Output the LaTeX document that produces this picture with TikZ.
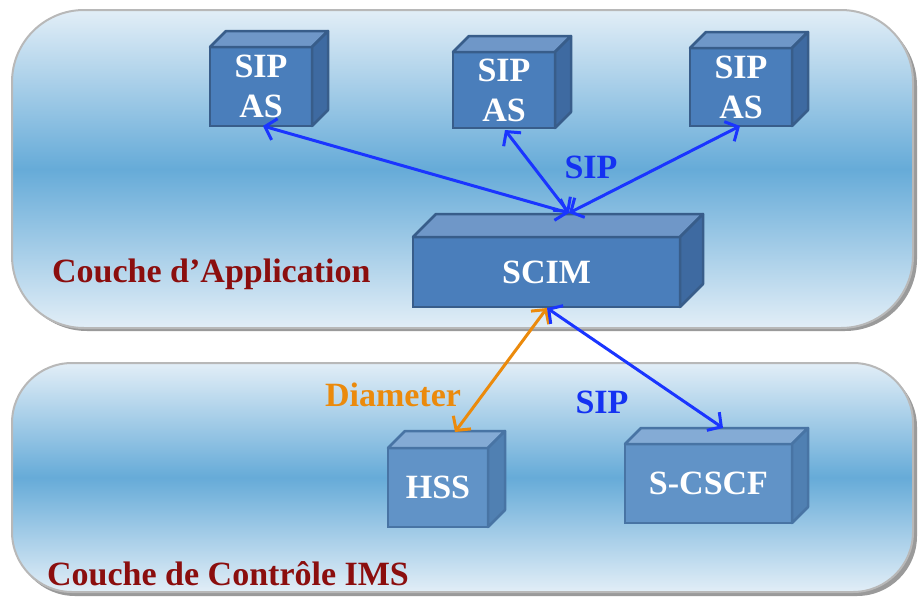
\documentclass[tikz,border=0pt]{standalone}
\usepackage{fontspec}
\setmainfont{Liberation Serif}
\usetikzlibrary{calc,arrows.meta}
\definecolor{panlight}{HTML}{E2EEF7}
\definecolor{panmid}{HTML}{66ABD8}
\definecolor{panedge}{HTML}{B8B8B8}
\definecolor{panshadow}{HTML}{9A9A9A}
\definecolor{frontA}{HTML}{4A7EBB}
\definecolor{topA}{HTML}{6F97C8}
\definecolor{sideA}{HTML}{3E6AA1}
\definecolor{edgeA}{HTML}{385D8A}
\definecolor{frontB}{HTML}{6193C7}
\definecolor{topB}{HTML}{84ABD5}
\definecolor{sideB}{HTML}{5080B2}
\definecolor{edgeB}{HTML}{4874A4}
\definecolor{labred}{HTML}{8B0E0E}
\definecolor{sipblue}{HTML}{1432F2}
\definecolor{arrblue}{HTML}{1A35FF}
\definecolor{diamorange}{HTML}{EB8A0C}
\newcommand\cubefaces[5]{%
  \filldraw[fill=#3,draw=#5,line width=2.5pt,line join=round]
    (#1.north west) -- ++(#2,-#2) -- ($(#1.north east)+(#2,-#2)$) -- (#1.north east) -- cycle;
  \filldraw[fill=#4,draw=#5,line width=2.5pt,line join=round]
    (#1.north east) -- ++(#2,-#2) -- ($(#1.south east)+(#2,-#2)$) -- (#1.south east) -- cycle;
}
\begin{document}
\begin{tikzpicture}[x=1pt,y=-1pt,
  bigtext/.style={font=\bfseries\fontsize{34}{40}\selectfont},
  frontA box/.style={bigtext,draw=edgeA,fill=frontA,line width=2.5pt,text=white,align=center,inner sep=0pt,outer sep=0pt},
  frontB box/.style={bigtext,draw=edgeB,fill=frontB,line width=2.5pt,text=white,align=center,inner sep=0pt,outer sep=0pt},
  layerlabel/.style={bigtext,text=labred,inner sep=0pt,anchor=base west},
  proto/.style={bigtext,inner sep=0pt},
  link/.style={line width=3pt,{Straight Barb[length=10pt,width=22pt,line width=3pt]}-{Straight Barb[length=10pt,width=22pt,line width=3pt]}}
]
\useasboundingbox (0,0) rectangle (918,597);
% panels
\fill[panshadow,rounded corners=72pt] (15,14) rectangle (917,331);
\shade[top color=panlight,bottom color=panlight,middle color=panmid,rounded corners=72pt] (12,10) rectangle (913,328);
\draw[panedge,line width=2pt,rounded corners=72pt] (12,10) rectangle (913,328);
\fill[panshadow,rounded corners=60pt] (15,367) rectangle (917,596);
\shade[top color=panlight,bottom color=panlight,middle color=panmid,rounded corners=60pt] (12,363) rectangle (913,592);
\draw[panedge,line width=2pt,rounded corners=60pt] (12,363) rectangle (913,592);
% boxes
\node[frontA box,minimum width=102pt,minimum height=79pt] (as1) at (261,86.5) {SIP\\AS};
\cubefaces{as1}{16}{topA}{sideA}{edgeA}
\node[frontA box,minimum width=102pt,minimum height=76pt] (as2) at (504,90) {SIP\\AS};
\cubefaces{as2}{16}{topA}{sideA}{edgeA}
\node[frontA box,minimum width=102pt,minimum height=78pt] (as3) at (741,87) {SIP\\AS};
\cubefaces{as3}{16}{topA}{sideA}{edgeA}
\node[frontA box,minimum width=267pt,minimum height=70pt] (scim) at (546.5,272) {SCIM};
\cubefaces{scim}{23}{topA}{sideA}{edgeA}
\node[frontB box,minimum width=100pt,minimum height=79pt] (hss) at (438,487.5) {HSS};
\cubefaces{hss}{17}{topB}{sideB}{edgeB}
\node[frontB box,minimum width=167pt,minimum height=79pt] (scscf) at (708.5,483.5) {S-CSCF};
\cubefaces{scscf}{16}{topB}{sideB}{edgeB}
% connector end points
\coordinate (scimtop) at (569,213);
\coordinate (hsstop) at (455,432);
\coordinate (scscftop) at (723,428);
\coordinate (as1b) at (263,126);
\coordinate (as2b) at (505,130);
\coordinate (as3b) at (740,126);
\coordinate (scimb) at (547,308);
% labels
\node[layerlabel] (lapp) at (52,282) {Couche d’Application};
\node[layerlabel] (lims) at (47,585) {Couche de Contrôle IMS};
\node[proto,text=sipblue] (sip1) at (591,167) {SIP};
\node[proto,text=sipblue] (sip2) at (602,402) {SIP};
\node[proto,text=diamorange] (diam) at (393,395) {Diameter};
% connectors
\draw[link,arrblue] (as1b) -- (scimtop);
\draw[link,arrblue] (as2b) -- (scimtop);
\draw[link,arrblue] (as3b) -- (scimtop);
\draw[link,diamorange] (scimb) -- (hsstop);
\draw[link,arrblue] (scimb) -- (scscftop);
\end{tikzpicture}
\end{document}
